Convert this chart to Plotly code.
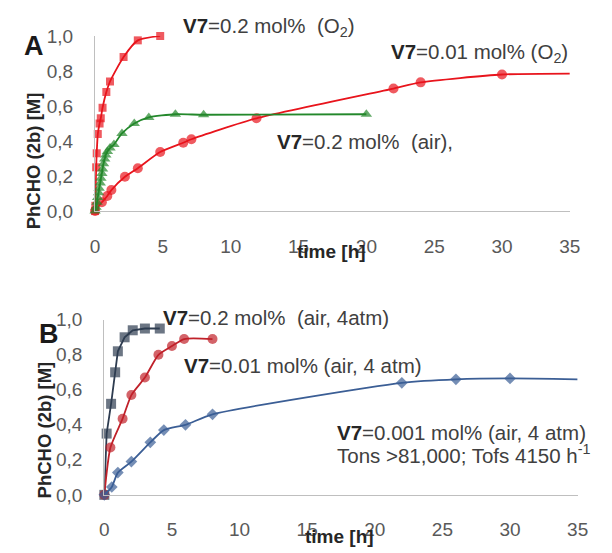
import plotly.graph_objects as go

W, H = 612, 553

# ---------------- data (panel A) ----------------
a_sq_t = [0, 0.02, 0.08, 0.12, 0.2, 0.33, 0.42, 0.55, 0.83, 1.1, 2.1, 3.15, 4.8]
a_sq_y = [0, 0.03, 0.25, 0.33, 0.44, 0.50, 0.53, 0.59, 0.68, 0.74, 0.88, 0.975, 1.0]

a_ci_t = [0, 0.5, 0.9, 1.2, 2.2, 3.15, 4.8, 6.5, 7.1, 11.9, 22, 24, 30, 35]
a_ci_y = [0, 0.05, 0.086, 0.12, 0.196, 0.245, 0.337, 0.39, 0.41, 0.53, 0.70, 0.735, 0.78, 0.785]
a_ci_mark = [True] * 13 + [False]

a_tr_t = [0, 0.07, 0.14, 0.19, 0.26, 0.3, 0.38, 0.43, 0.5, 0.55, 0.62, 0.71, 0.79, 0.91,
          1.1, 1.39, 1.98, 2.89, 3.96, 5.92, 8, 20]
a_tr_y = [0, 0.022, 0.05, 0.077, 0.104, 0.13, 0.16, 0.187, 0.214, 0.24, 0.27, 0.297, 0.32,
          0.34, 0.36, 0.38, 0.443, 0.50, 0.535, 0.553, 0.55, 0.553]

# ---------------- data (panel B) ----------------
b_sq_t = [0, 0.17, 0.5, 0.8, 1.0, 1.5, 2.1, 3, 4.1]
b_sq_y = [0, 0.35, 0.52, 0.70, 0.82, 0.90, 0.94, 0.95, 0.95]

b_ci_t = [0, 0.45, 1.35, 2.0, 3.0, 4.0, 5.0, 5.9, 8.0]
b_ci_y = [0, 0.27, 0.435, 0.57, 0.67, 0.80, 0.85, 0.89, 0.89]

b_di_t = [0, 0.55, 1.0, 2.0, 3.4, 4.4, 6.0, 8.0, 22, 26, 30, 35]
b_di_y = [0, 0.045, 0.127, 0.19, 0.30, 0.37, 0.40, 0.46, 0.64, 0.66, 0.665, 0.66]
b_di_mark = [True] * 11 + [False]

y_ticks = [0, 0.2, 0.4, 0.6, 0.8, 1.0]
y_ticktext = ["0,0", "0,2", "0,4", "0,6", "0,8", "1,0"]
x_ticks = [0, 5, 10, 15, 20, 25, 30, 35]

RED = "#E8141C"
GREEN = "#23882B"
DARK = "#2E3C50"
DRED = "#C0212A"
BLUE = "#3B5E95"
AXC = "#BFBFBF"
TXT = "#595959"
TFONT = "Liberation Sans, Arial, sans-serif"


def px(x):
    return x / W


def py(y):
    return 1 - y / H


fig = go.Figure()

def add(t, y, color, symbol, size, xa, ya, shape="spline", marks=None):
    sizes = [size if (marks is None or m) else 0 for m in (marks or [True] * len(t))]
    fig.add_trace(go.Scatter(
        x=t, y=y, mode="lines+markers", xaxis=xa, yaxis=ya,
        line=dict(color=color, width=1.8, shape=shape, smoothing=0.6),
        marker=dict(color=color, symbol=symbol, size=sizes, line=dict(width=0)),
        cliponaxis=False, showlegend=False, hoverinfo="x+y"))

add(a_sq_t, a_sq_y, RED, "square", 8, "x", "y")
add(a_ci_t, a_ci_y, RED, "circle", 10, "x", "y", marks=a_ci_mark)
add(a_tr_t, a_tr_y, GREEN, "triangle-up", 10, "x", "y")
add(b_sq_t, b_sq_y, DARK, "square", 10, "x2", "y2", shape="linear")
add(b_ci_t, b_ci_y, DRED, "circle", 10, "x2", "y2")
add(b_di_t, b_di_y, BLUE, "diamond", 9, "x2", "y2", marks=b_di_mark)

axis_common = dict(showgrid=False, zeroline=False, showline=True, linecolor=AXC, linewidth=1.3,
                   ticks="", tickfont=dict(family=TFONT, size=19, color=TXT))

fig.update_layout(
    width=W, height=H, margin=dict(l=0, r=0, t=0, b=0),
    paper_bgcolor="white", plot_bgcolor="white",
    xaxis=dict(domain=[px(92.5), px(580)], range=[0, 35], tickvals=x_ticks, anchor="y",
               ticklabelstandoff=18, **axis_common),
    yaxis=dict(domain=[py(209), py(27)], range=[0, 1], tickvals=y_ticks, ticktext=y_ticktext,
               anchor="x", ticklabelstandoff=17, **axis_common),
    xaxis2=dict(domain=[px(102), px(588)], range=[0, 35], tickvals=x_ticks, anchor="y2",
                ticklabelstandoff=17, **axis_common),
    yaxis2=dict(domain=[py(504), py(322)], range=[0, 1], tickvals=y_ticks, ticktext=y_ticktext,
                anchor="x2", ticklabelstandoff=17, **axis_common),
)

AF = dict(family=TFONT, size=20.5, color="#404040")
V7 = "<b><span style='color:#262626'>V7</span></b>"
anns = [
    (V7 + "=0.2 mol%  (O<sub>2</sub>)", 181, 18),
    (V7 + "=0.01 mol% (O<sub>2</sub>)", 394, 45),
    (V7 + "=0.2 mol%  (air),", 277, 137),
    (V7 + "=0.2 mol%  (air, 4atm)", 160, 320),
    (V7 + "=0.01 mol% (air, 4 atm)", 182, 370),
    (V7 + "=0.001 mol% (air, 4 atm)", 339, 439),
    ("Tons >81,000; Tofs 4150 h<sup>-1</sup>", 339, 462),
]
for text, x, y in anns:
    fig.add_annotation(text=text, x=px(x), y=py(y), xref="paper", yref="paper",
                       xanchor="left", yanchor="middle", showarrow=False, font=AF)

# panel letters
for text, x, y in [("<b>A</b>", 30, 37), ("<b>B</b>", 45, 337)]:
    fig.add_annotation(text=text, x=px(x), y=py(y), xref="paper", yref="paper",
                       xanchor="center", yanchor="middle", showarrow=False,
                       font=dict(family=TFONT, size=27, color="#1a1a1a"))

# axis titles
TF = dict(family=TFONT, size=19, color="#262626")
for x, y in [(335, 251), (343, 547)]:
    fig.add_annotation(text="<b>time [h]</b>", x=px(x), y=py(y), xref="paper", yref="paper",
                       xanchor="center", yanchor="middle", showarrow=False, font=TF)
TF2 = dict(family=TFONT, size=18.5, color="#262626")
for x, y in [(29, 157), (40, 436)]:
    fig.add_annotation(text="<b>PhCHO (2b) [M]</b>", x=px(x), y=py(y), xref="paper", yref="paper",
                       xanchor="center", yanchor="middle", showarrow=False, textangle=-90, font=TF2)

fig.write_html("out.html", config={"displayModeBar": False},
               post_script="document.body.style.margin='0';document.body.style.overflow='hidden';")
